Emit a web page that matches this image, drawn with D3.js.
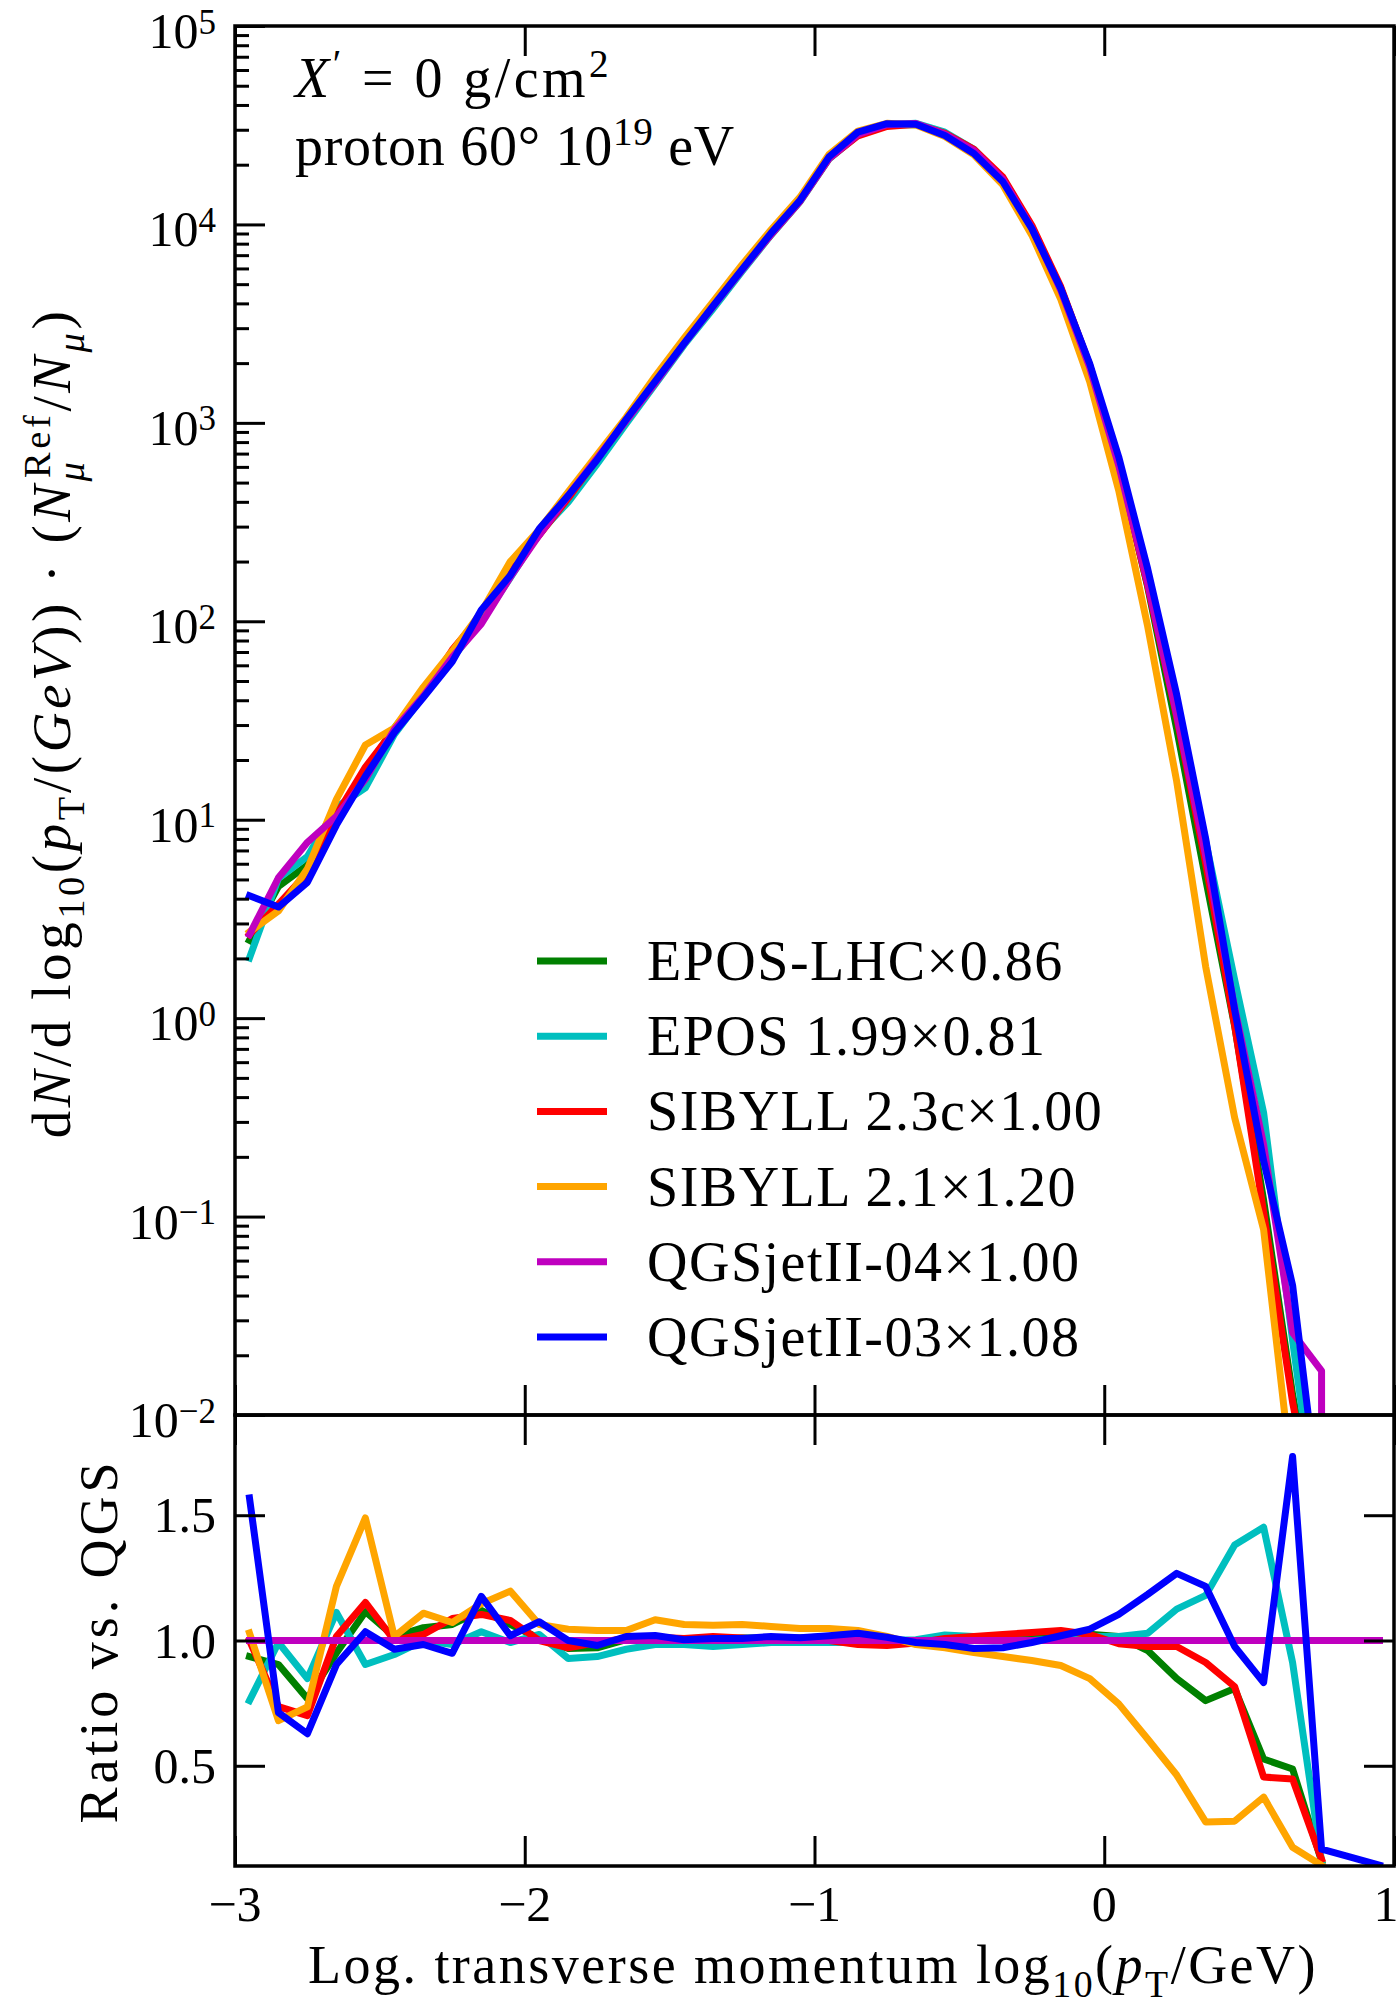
<!DOCTYPE html>
<html>
<head>
<meta charset="utf-8">
<script src="https://cdn.jsdelivr.net/npm/d3@7"></script>
<style>
  body { margin: 0; background: #fff; }
  svg { display: block; }
  text { font-family: "Liberation Serif", "DejaVu Serif", serif; fill: #000; }
</style>
</head>
<body>
<div id="chart"></div>
<script>
// bin centres of log10(pT/GeV)
const xBins = [-2.95, -2.85, -2.75, -2.65, -2.55, -2.45, -2.35, -2.25, -2.15, -2.05,
    -1.95, -1.85, -1.75, -1.65, -1.55, -1.45, -1.35, -1.25, -1.15, -1.05,
    -0.95, -0.85, -0.75, -0.65, -0.55, -0.45, -0.35, -0.25, -0.15, -0.05,
    0.05, 0.15, 0.25, 0.35, 0.45, 0.55, 0.65, 0.75, 0.85, 0.95];

// upper panel: dN/dlog10(pT) (already scaled)
const eposLhc = [2.47, 4.61, 5.91, 9.88, 17.8, 29.0, 44.1, 70.2, 108.6, 177.7,
    274, 416, 646, 1028, 1598, 2530, 3870, 5950, 8990, 13230,
    21820, 28680, 31800, 31930, 28550, 23670, 17070, 9740, 4750, 1948,
    620, 148.8, 28.6, 5.02, 0.913, 0.121, 0.0127, 0.002, 0, 0];
const epos199 = [2.01, 5.06, 6.53, 11.56, 14.46, 26.9, 42, 64.9, 100.4, 165.7,
    278.5, 399, 622, 989, 1560, 2470, 3758, 5796, 8830, 13000,
    21330, 28170, 31800, 32350, 29180, 23930, 16950, 9600, 4700, 1930,
    620, 159.5, 37.9, 7.79, 1.56, 0.334, 0.0237, 0.002, 0, 0];
const sib23c = [2.64, 3.75, 5.39, 10.57, 18.4, 28.5, 43.0, 71.8, 107.1, 180.4,
    272, 417.5, 660, 1033, 1606, 2530, 3912, 5950, 8900, 13100,
    21500, 27950, 31160, 31930, 28780, 23930, 17310, 9910, 4846, 1946,
    602, 151.3, 32.9, 6.02, 0.922, 0.105, 0.0116, 0.0021, 0, 0];
const sib21 = [2.72, 3.47, 5.66, 12.65, 23.8, 29.0, 46.6, 70.8, 111.3, 199.9,
    289.4, 449, 692, 1066, 1717, 2671, 4085, 6267, 9398, 13730,
    22530, 29540, 32310, 31730, 27720, 22420, 15820, 8832, 4194, 1611,
    455.7, 94.1, 15.6, 1.82, 0.315, 0.086, 0.00455, 0.00172, 0, 0];
const qgs04 = [2.64, 5.1, 7.7, 10.4, 16, 28.5, 42, 66, 97, 167,
    272, 430, 665, 1025, 1585, 2510, 3850, 5890, 8900, 13100,
    21500, 28400, 31800, 32250, 28550, 23550, 16900, 9600, 4660, 1900,
    610, 155, 33.7, 6.6, 1.13, 0.23, 0.026, 0.0167, 0, 0];
const qgs03 = [4.14, 3.63, 4.84, 9.40, 16.56, 27.5, 41.3, 62.6, 114.1, 170.2,
    292.4, 430, 651.7, 1041, 1617, 2518, 3881, 5937, 9042, 13240,
    21910, 29220, 32210, 31990, 28090, 22800, 16410, 9523, 4749, 1986,
    673, 183.5, 42.7, 8.03, 1.10, 0.191, 0.0451, 0.00279, 0, 0];

// lower panel: ratio vs. QGSjetII-04
const rEposLhc = [0.936, 0.904, 0.768, 0.95, 1.115, 1.016, 1.051, 1.064, 1.12, 1.064,
    1.008, 0.968, 0.971, 1.003, 1.008, 1.008, 1.005, 1.01, 1.01, 1.01,
    1.015, 1.01, 1.0, 0.99, 1.0, 1.005, 1.01, 1.015, 1.02, 1.025,
    1.016, 0.96, 0.848, 0.76, 0.808, 0.527, 0.487, 0.12, null, null];
const rEpos199 = [0.76, 0.992, 0.848, 1.112, 0.904, 0.944, 1.0, 0.984, 1.035, 0.992,
    1.024, 0.928, 0.936, 0.965, 0.984, 0.984, 0.976, 0.984, 0.992, 0.992,
    0.992, 0.992, 1.0, 1.003, 1.022, 1.016, 1.003, 1.0, 1.008, 1.016,
    1.016, 1.029, 1.125, 1.18, 1.381, 1.452, 0.912, 0.119, null, null];
const rSib23c = [1.0, 0.736, 0.70, 1.016, 1.152, 1.0, 1.024, 1.088, 1.104, 1.08,
    1.0, 0.971, 0.992, 1.008, 1.013, 1.008, 1.016, 1.01, 1.0, 1.0,
    1.0, 0.984, 0.98, 0.99, 1.008, 1.016, 1.024, 1.032, 1.04, 1.024,
    0.987, 0.976, 0.976, 0.912, 0.816, 0.455, 0.447, 0.127, null, null];
const rSib21 = [1.03, 0.68, 0.735, 1.216, 1.489, 1.016, 1.109, 1.072, 1.147, 1.197,
    1.064, 1.045, 1.04, 1.04, 1.083, 1.064, 1.061, 1.064, 1.056, 1.048,
    1.048, 1.04, 1.016, 0.984, 0.971, 0.952, 0.936, 0.92, 0.9, 0.848,
    0.747, 0.607, 0.463, 0.276, 0.279, 0.375, 0.175, 0.103, null, null];
const rQgs04 = [1, 1, 1, 1, 1, 1, 1, 1, 1, 1, 1, 1, 1, 1, 1, 1, 1, 1, 1, 1,
    1, 1, 1, 1, 1, 1, 1, 1, 1, 1, 1, 1, 1, 1, 1, 1, 1, 1, 1, 1];
const rQgs03 = [1.569, 0.712, 0.628, 0.904, 1.035, 0.965, 0.984, 0.949, 1.176, 1.019,
    1.075, 1.0, 0.98, 1.016, 1.02, 1.003, 1.008, 1.008, 1.016, 1.011,
    1.019, 1.029, 1.013, 0.992, 0.984, 0.968, 0.971, 0.992, 1.019, 1.045,
    1.104, 1.184, 1.268, 1.216, 0.976, 0.832, 1.734, 0.167, 0.135, 0.103];

const labels = ['EPOS-LHC×0.86', 'EPOS 1.99×0.81', 'SIBYLL 2.3c×1.00',
    'SIBYLL 2.1×1.20', 'QGSjetII-04×1.00', 'QGSjetII-03×1.08'];
const colors = ['#008000', '#00bfbf', '#ff0000', '#ffa500', '#bf00bf', '#0000ff'];
const mainSeries = [eposLhc, epos199, sib23c, sib21, qgs04, qgs03];
const ratioSeries = [rEposLhc, rEpos199, rSib23c, rSib21, rQgs04, rQgs03];

const xTicks = [-3, -2, -1, 0, 1];
const xTickLabels = ['−3', '−2', '−1', '0', '1'];
const yMainTicks = [1e5, 1e4, 1e3, 1e2, 1e1, 1e0, 1e-1, 1e-2];
const yMainExp = ['5', '4', '3', '2', '1', '0', '−1', '−2'];
const yRatioTicks = [0.5, 1.0, 1.5];
const yRatioLabels = ['0.5', '1.0', '1.5'];

// layout
const W = 1400, H = 2008;
const L = 235, R = 1394, T = 26, MID = 1415, B = 1866;
const fs = 50;

const svg = d3.select('#chart').append('svg')
    .attr('width', W).attr('height', H);

const x = d3.scaleLinear().domain([-3, 1]).range([L, R]);
const yMain = d3.scaleLog().domain([1e-2, 1e5]).range([MID, T]);
const yRatio = d3.scaleLinear().domain([0.1, 1.9]).range([B, MID]);

// text with sub/superscripts, parts: {t, s: 'sup'|'sub', i: italic, stack}
function rich(textSel, parts, size, supShift = 0.36) {
    let shift = 0;
    let lastLen = 0;
    parts.forEach(p => {
        let target = p.s === 'sup' ? -supShift * size : p.s === 'sub' ? 0.25 * size : 0;
        let ts = textSel.append('tspan')
            .attr('dy', target - shift)
            .attr('font-size', p.s ? size * 0.7 : size)
            .text(p.t);
        if (p.i) ts.attr('font-style', 'italic');
        if (p.stack) ts.attr('dx', -lastLen);
        lastLen = ts.node().getComputedTextLength();
        shift = target;
    });
    if (shift !== 0) textSel.append('tspan').attr('dy', -shift).text('');
    return textSel;
}

// widen a text (Computer Modern runs wider than Times) by letter spacing
function fit(textSel, target) {
    let n = textSel.node();
    let len = n.getComputedTextLength();
    let chars = n.textContent.length;
    textSel.attr('letter-spacing', (target - len) / chars);
    return textSel;
}

let defs = svg.append('defs');
defs.append('clipPath').attr('id', 'clip-main').append('rect')
    .attr('x', L).attr('y', T).attr('width', R - L).attr('height', MID - T);
defs.append('clipPath').attr('id', 'clip-ratio').append('rect')
    .attr('x', L).attr('y', MID).attr('width', R - L).attr('height', B - MID);

// curves
let lineMain = d3.line()
    .x((d, i) => x(xBins[i]))
    .y(d => yMain(Math.max(d, 1e-300)));
let lineRatio = d3.line()
    .defined(d => d !== null)
    .x((d, i) => x(xBins[i]))
    .y(d => yRatio(d));

let gMain = svg.append('g').attr('clip-path', 'url(#clip-main)');
let gRatio = svg.append('g').attr('clip-path', 'url(#clip-ratio)');
mainSeries.forEach((s, k) => {
    gMain.append('path').datum(s)
        .attr('d', lineMain)
        .attr('fill', 'none')
        .attr('stroke', colors[k])
        .attr('stroke-width', 7)
        .attr('stroke-linejoin', 'round')
        .attr('stroke-linecap', 'square');
});
ratioSeries.forEach((s, k) => {
    gRatio.append('path').datum(s)
        .attr('d', lineRatio)
        .attr('fill', 'none')
        .attr('stroke', colors[k])
        .attr('stroke-width', 7)
        .attr('stroke-linejoin', 'round')
        .attr('stroke-linecap', 'square');
});

// ticks (all pointing inwards)
let minors = [];
for (let e = -2; e < 5; e++) {
    for (let m = 2; m < 10; m++) minors.push(m * Math.pow(10, e));
}
function ticks(axis, tr, size) {
    let g = svg.append('g').attr('transform', tr)
        .call(axis.tickSize(-size).tickFormat(''));
    g.select('.domain').remove();
    g.selectAll('line').attr('stroke-width', 3);
    return g;
}
ticks(d3.axisLeft(yMain).tickValues(yMainTicks), `translate(${L},0)`, 30);
ticks(d3.axisLeft(yMain).tickValues(minors), `translate(${L},0)`, 14);
ticks(d3.axisTop(x).tickValues(xTicks), `translate(0,${T})`, 30);
ticks(d3.axisBottom(x).tickValues(xTicks), `translate(0,${MID})`, 30);
ticks(d3.axisTop(x).tickValues(xTicks), `translate(0,${MID})`, 30);
ticks(d3.axisBottom(x).tickValues(xTicks), `translate(0,${B})`, 30);
ticks(d3.axisLeft(yRatio).tickValues(yRatioTicks), `translate(${L},0)`, 30);
ticks(d3.axisRight(yRatio).tickValues(yRatioTicks), `translate(${R},0)`, 30);

// frames
[[T, MID], [MID, B]].forEach(([y0, y1]) => {
    svg.append('rect')
        .attr('x', L).attr('y', y0).attr('width', R - L).attr('height', y1 - y0)
        .attr('fill', 'none').attr('stroke', '#000').attr('stroke-width', 3.5);
});

// tick labels
yMainTicks.forEach((v, i) => {
    let t = svg.append('text')
        .attr('x', L - 19).attr('y', yMain(v) + 22)
        .attr('text-anchor', 'end').attr('font-size', fs);
    rich(t, [{ t: '10' }, { t: yMainExp[i], s: 'sup' }], fs, 0.29);
});
yRatioTicks.forEach((v, i) => {
    svg.append('text')
        .attr('x', L - 19).attr('y', yRatio(v) + 17)
        .attr('text-anchor', 'end').attr('font-size', fs)
        .text(yRatioLabels[i]);
});
xTicks.forEach((v, i) => {
    svg.append('text')
        .attr('x', Math.min(x(v), W - 14)).attr('y', B + 55)
        .attr('text-anchor', 'middle').attr('font-size', fs)
        .text(xTickLabels[i]);
});

// axis titles
fit(rich(svg.append('text')
    .attr('x', 813).attr('y', 1983)
    .attr('text-anchor', 'middle').attr('font-size', 54),
    [{ t: 'Log. transverse momentum log' }, { t: '10', s: 'sub' }, { t: '(' },
     { t: 'p', i: 1 }, { t: 'T', s: 'sub' }, { t: '/GeV)' }], 54), 1010);

fit(rich(svg.append('text')
    .attr('transform', 'translate(70,723) rotate(-90)')
    .attr('text-anchor', 'middle').attr('font-size', 55),
    [{ t: 'd' }, { t: 'N', i: 1 }, { t: '/d log' }, { t: '10', s: 'sub' }, { t: '(' },
     { t: 'p', i: 1 }, { t: 'T', s: 'sub' }, { t: '/(' }, { t: 'GeV', i: 1 },
     { t: ')) · (' }, { t: 'N', i: 1 }, { t: 'μ', s: 'sub', i: 1 },
     { t: 'Ref', s: 'sup', stack: 1 }, { t: '/' }, { t: 'N', i: 1 },
     { t: 'μ', s: 'sub', i: 1 }, { t: ')' }], 55), 850);

fit(svg.append('text')
    .attr('transform', 'translate(117,1641) rotate(-90)')
    .attr('text-anchor', 'middle').attr('font-size', 54)
    .text('Ratio vs. QGS'), 365);

// annotation
fit(rich(svg.append('text').attr('x', 295).attr('y', 97).attr('font-size', 56),
    [{ t: 'X', i: 1 }, { t: '′', s: 'sup' }, { t: ' = 0 g/cm' }, { t: '2', s: 'sup' }], 56), 317);
fit(rich(svg.append('text').attr('x', 295).attr('y', 165).attr('font-size', 56),
    [{ t: 'proton 60° 10' }, { t: '19', s: 'sup' }, { t: ' eV' }], 56), 440);

// legend
let legend = svg.append('g');
labels.forEach((lab, k) => {
    let yy = 961 + k * 75.2;
    legend.append('line')
        .attr('x1', 537).attr('x2', 607).attr('y1', yy).attr('y2', yy)
        .attr('stroke', colors[k]).attr('stroke-width', 7);
    legend.append('text')
        .attr('x', 647).attr('y', yy + 19)
        .attr('font-size', 56)
        .attr('letter-spacing', 1.5)
        .text(lab);
});
</script>
</body>
</html>
